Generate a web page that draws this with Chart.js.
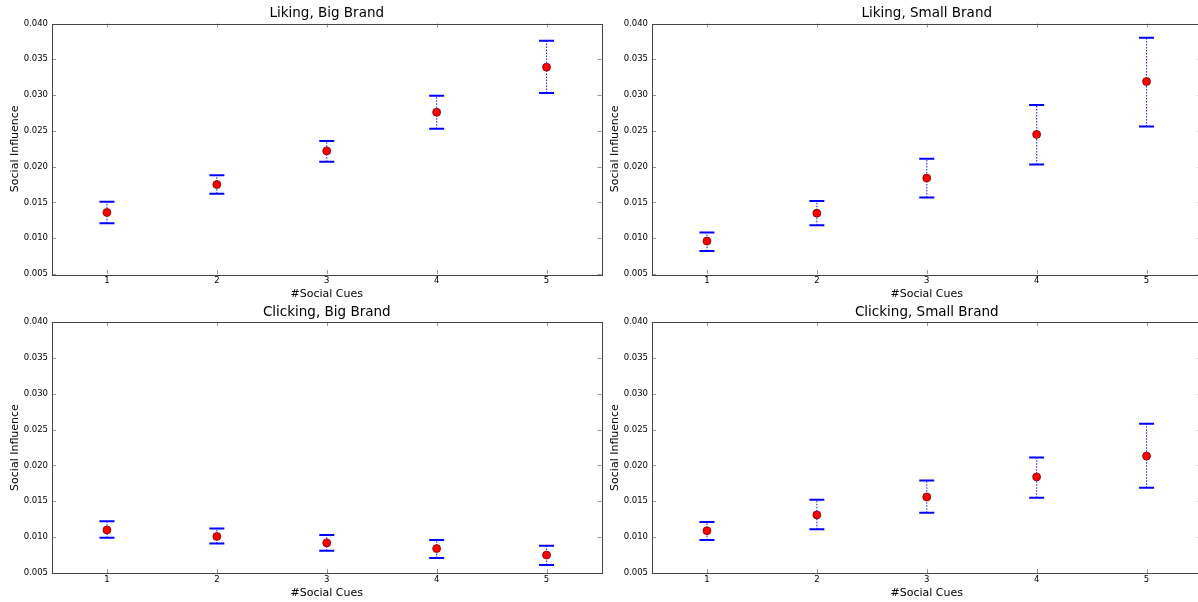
<!DOCTYPE html>
<html>
<head>
<meta charset="utf-8">
<script src="https://cdn.jsdelivr.net/npm/chart.js@4"></script>
<style>
body { margin: 0; background: #fff; width: 1198px; height: 602px; overflow: hidden; position: relative; }
canvas { position: absolute; }
</style>
</head>
<body>
<canvas id="likingBig" width="611" height="301" style="left:0;top:0"></canvas>
<canvas id="likingSmall" width="611" height="301" style="left:600px;top:0"></canvas>
<canvas id="clickingBig" width="611" height="300" style="left:0;top:300px"></canvas>
<canvas id="clickingSmall" width="611" height="300" style="left:600px;top:300px"></canvas>
<script>
// number of social cues (x) and axis ticks
const cues = [1, 2, 3, 4, 5];
const yTicks = [0.005, 0.010, 0.015, 0.020, 0.025, 0.030, 0.035, 0.040];

// Liking, Big Brand
const likingBigMean = [0.0136, 0.0175, 0.0222, 0.0276, 0.0339];
const likingBigLow  = [0.0121, 0.0162, 0.0207, 0.0253, 0.0303];
const likingBigHigh = [0.0151, 0.0188, 0.0236, 0.0299, 0.0376];

// Liking, Small Brand
const likingSmallMean = [0.0096, 0.0135, 0.0184, 0.0245, 0.0319];
const likingSmallLow  = [0.0082, 0.0118, 0.0157, 0.0203, 0.0256];
const likingSmallHigh = [0.0108, 0.0152, 0.0211, 0.0286, 0.0380];

// Clicking, Big Brand
const clickingBigMean = [0.0110, 0.0101, 0.0092, 0.0084, 0.0075];
const clickingBigLow  = [0.0099, 0.0091, 0.0081, 0.0071, 0.0061];
const clickingBigHigh = [0.0122, 0.0112, 0.0103, 0.0096, 0.0088];

// Clicking, Small Brand
const clickingSmallMean = [0.0109, 0.0131, 0.0156, 0.0184, 0.0213];
const clickingSmallLow  = [0.0096, 0.0111, 0.0134, 0.0155, 0.0169];
const clickingSmallHigh = [0.0121, 0.0152, 0.0179, 0.0211, 0.0258];

const family = "'DejaVu Sans', sans-serif";

// box around the axes plus inward tick marks (matplotlib style)
const framePlugin = {
    id: 'frame',
    afterDatasetsDraw(chart) {
        const ctx = chart.ctx;
        const a = chart.chartArea;
        const xs = chart.scales.x;
        const ys = chart.scales.y;
        ctx.save();
        ctx.strokeStyle = '#999';
        ctx.lineWidth = 1;
        ctx.beginPath();
        xs.ticks.forEach(t => {
            const px = Math.round(xs.getPixelForValue(t.value)) + 0.5;
            ctx.moveTo(px, a.bottom); ctx.lineTo(px, a.bottom - 4);
            ctx.moveTo(px, a.top); ctx.lineTo(px, a.top + 4);
        });
        ys.ticks.forEach(t => {
            const py = Math.round(ys.getPixelForValue(t.value)) + 0.5;
            ctx.moveTo(a.left, py); ctx.lineTo(a.left + 4, py);
            ctx.moveTo(a.right, py); ctx.lineTo(a.right - 4, py);
        });
        ctx.stroke();
        ctx.strokeStyle = '#444';
        ctx.strokeRect(Math.round(a.left) + 0.5, Math.round(a.top) + 0.5,
            Math.round(a.right - a.left), Math.round(a.bottom - a.top));
        ctx.restore();
    }
};

function makePanel(id, title, mean, low, high, padRight, titlePad) {
    const errLines = [];
    const caps = [];
    cues.forEach((c, i) => {
        errLines.push({x: c, y: low[i]}, {x: c, y: high[i]}, {x: c, y: null});
        caps.push({x: c, y: low[i]}, {x: c, y: high[i]});
    });

    new Chart(document.getElementById(id), {
        type: 'scatter',
        data: {
            datasets: [{
                data: cues.map((c, i) => ({x: c, y: mean[i]})),
                order: 0,
                pointRadius: 4,
                pointBackgroundColor: '#ff0000',
                pointBorderColor: '#600000',
                pointBorderWidth: 0.7
            }, {
                data: caps,
                order: 1,
                pointStyle: 'line',
                pointRadius: 7.5,
                pointBorderColor: '#0000ff',
                pointBorderWidth: 2
            }, {
                data: errLines,
                order: 2,
                showLine: true,
                spanGaps: false,
                pointRadius: 0,
                borderColor: 'rgba(0, 0, 255, 0.85)',
                borderWidth: 1.1,
                borderDash: [1.5, 1.5]
            }]
        },
        options: {
            responsive: false,
            animation: false,
            events: [],
            layout: { padding: { right: padRight } },
            plugins: {
                legend: { display: false },
                tooltip: { enabled: false },
                title: {
                    display: true,
                    text: title,
                    fullSize: false,
                    color: '#000',
                    font: { family: family, size: 13.5, weight: 'normal', lineHeight: 1 },
                    padding: titlePad
                }
            },
            scales: {
                x: {
                    type: 'linear',
                    min: 0.5,
                    max: 5.5,
                    grid: { display: false, drawTicks: false },
                    border: { display: false },
                    afterBuildTicks: s => { s.ticks = cues.map(v => ({value: v})); },
                    afterFit: s => { s.height = 27; },
                    ticks: {
                        color: '#000',
                        font: { family: family, size: 8.5 },
                        padding: 2,
                        maxRotation: 0,
                        autoSkip: false,
                        callback: v => String(v)
                    },
                    title: {
                        display: true,
                        text: '#Social Cues',
                        color: '#000',
                        font: { family: family, size: 11 },
                        padding: { top: 0, bottom: 0 }
                    }
                },
                y: {
                    min: 0.005,
                    max: 0.040,
                    grid: { display: false, drawTicks: false },
                    border: { display: false },
                    afterBuildTicks: s => { s.ticks = yTicks.map(v => ({value: v})); },
                    afterFit: s => { s.width = 52; },
                    ticks: {
                        color: '#000',
                        font: { family: family, size: 8.5 },
                        padding: 4,
                        callback: v => v.toFixed(3)
                    },
                    title: {
                        display: true,
                        text: 'Social Influence',
                        color: '#000',
                        font: { family: family, size: 11 },
                        padding: { top: 9, bottom: 0 }
                    }
                }
            }
        },
        plugins: [framePlugin]
    });
}

makePanel('likingBig', 'Liking, Big Brand', likingBigMean, likingBigLow, likingBigHigh, 2, { top: 7, bottom: 3 });
makePanel('likingSmall', 'Liking, Small Brand', likingSmallMean, likingSmallLow, likingSmallHigh, 2, { top: 7, bottom: 3 });
makePanel('clickingBig', 'Clicking, Big Brand', clickingBigMean, clickingBigLow, clickingBigHigh, 2, { top: 6, bottom: 2.5 });
makePanel('clickingSmall', 'Clicking, Small Brand', clickingSmallMean, clickingSmallLow, clickingSmallHigh, 2, { top: 6, bottom: 2.5 });
</script>
</body>
</html>
